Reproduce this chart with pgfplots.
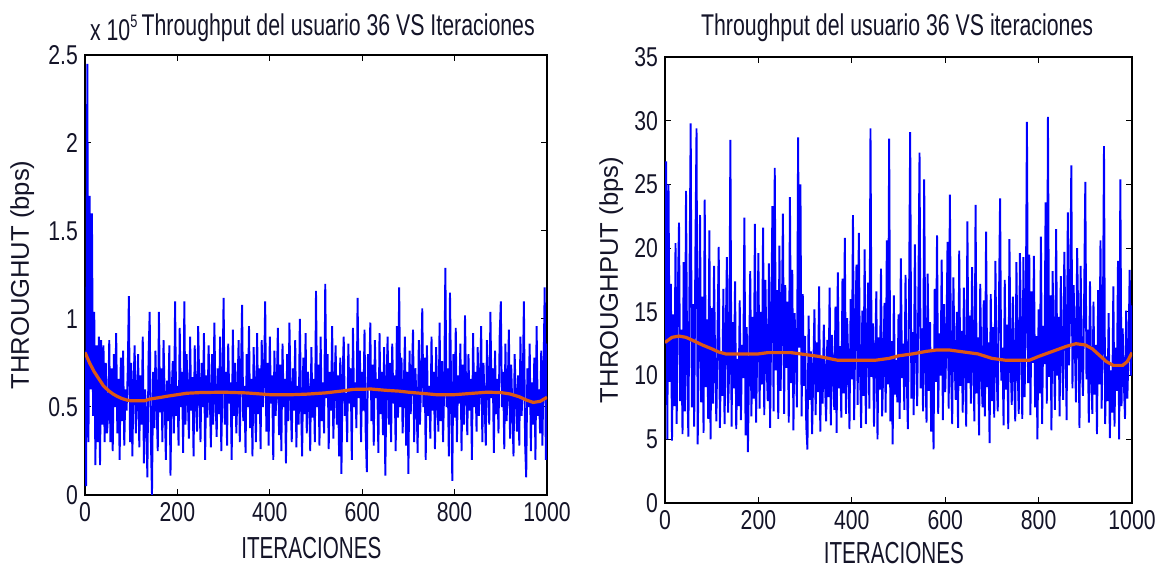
\documentclass[border=0pt]{standalone}
\usepackage{pgfplots}
\pgfplotsset{compat=1.18}
\usepackage{pgfplotstable}
\usepackage{fontspec}
\setmainfont{Liberation Sans}
\newfontfamily\tickf{Liberation Sans}[FakeStretch=0.78]
\newfontfamily\titf{Liberation Sans}[FakeStretch=0.71]
\newfontfamily\xlabf{Liberation Sans}[FakeStretch=0.68]
\definecolor{mblue}{RGB}{0,0,255}
\definecolor{morange}{RGB}{222,88,20}
\definecolor{mtext}{RGB}{20,20,40}

\pgfplotstableread{
y
0.82
0.05
2.45
0.3
1.7
0.6
1.6
0.45
1.04
0.17
0.85
0.3
0.9
0.17
0.88
0.4
0.85
0.3
0.75
0.35
0.45
0.88
0.3
0.72
0.25
0.8
0.5
0.92
0.35
0.66
0.2
0.78
0.42
0.82
0.28
0.6
0.48
0.7
1.13
0.3
0.75
0.22
0.62
0.85
0.35
0.55
0.8
0.27
0.68
0.4
0.9
0.18
0.6
0.45
0.1
0.78
1.04
0.33
0.0
0.7
0.38
0.82
0.5
0.25
1.04
0.47
0.72
0.3
0.88
0.55
0.2
0.65
0.42
0.85
0.11
0.58
0.76
0.35
1.1
0.45
0.62
0.28
0.95
0.5
0.7
0.24
1.1
0.4
0.8
0.55
0.32
0.9
0.48
0.67
0.22
0.85
0.52
0.36
0.96
0.6
0.3
0.75
0.5
0.92
0.2
0.68
0.44
0.85
0.58
0.27
0.8
0.4
0.98
0.55
0.33
0.72
0.46
0.9
0.25
0.62
1.12
0.4
0.7
0.28
0.86
0.52
0.64
0.2
0.94
0.45
0.75
0.35
0.58
0.88
0.3
0.68
1.08
0.42
0.62
0.24
0.8
0.5
0.96
0.38
0.66
0.22
0.84
0.55
0.3
0.92
0.46
0.72
0.26
0.88
0.5
0.64
1.1
0.36
0.75
0.28
0.9
0.52
0.68
0.2
0.82
0.45
0.6
0.95
0.34
0.74
0.25
0.86
0.5
0.66
0.18
0.8
0.42
0.98
0.56
0.3
0.72
0.48
0.88
0.27
0.62
0.4
1.0
0.53
0.22
0.78
0.46
0.92
0.35
0.7
0.58
0.25
0.84
0.44
0.66
0.3
1.16
0.5
0.74
0.28
0.9
0.42
0.64
0.35
1.2
0.55
0.8
0.26
0.7
0.48
0.96
0.32
0.6
0.85
0.4
0.68
0.22
0.78
0.12
0.66
0.9
0.45
0.58
0.3
0.86
0.52
0.72
0.2
0.95
0.5
0.64
0.38
1.12
0.55
0.82
0.3
0.7
0.48
0.94
0.36
0.13
0.8
0.6
0.98
0.42
0.74
0.28
0.88
0.55
0.66
0.24
0.92
0.46
0.7
0.34
0.84
0.11
0.62
0.9
0.4
0.75
0.3
0.86
0.52
0.68
0.25
0.96
0.44
1.18
0.5
0.78
0.35
0.6
0.9
0.28
0.7
0.12
0.82
0.46
0.66
0.94
0.3
0.72
0.55
0.24
0.88
0.4
0.64
1.06
0.5
0.78
0.2
0.85
0.45
0.62
0.32
0.9
0.48
0.7
0.26
0.84
0.55
0.36
0.98
0.42
0.76
0.3
0.62
1.29
0.5
0.72
0.22
1.15
0.6
0.08
0.8
0.44
0.95
0.3
0.68
0.52
0.86
0.25
0.74
0.4
1.02
0.56
0.34
0.8
0.48
0.66
0.2
0.92
0.5
0.7
0.36
0.84
0.45
0.62
0.96
0.3
0.75
0.52
0.28
0.88
0.6
0.4
1.04
0.55
0.72
0.24
0.82
0.46
0.66
0.35
0.9
1.1
0.5
0.7
0.26
0.86
0.42
0.6
0.94
0.32
0.74
0.48
0.22
0.8
0.55
0.36
0.68
0.28
0.9
0.45
0.62
1.1
0.3
0.1
0.72
0.5
0.86
0.25
0.64
0.4
0.78
0.2
0.96
0.45
0.6
0.35
0.82
0.28
0.7
1.18
0.2
0.86
}\leftraw

\pgfplotstableread{
y
12.5
26.8
5.0
25.0
9.5
17.2
4.9
14.8
7.6
20.4
6.2
16.5
22.0
8.0
13.6
5.4
18.9
7.2
24.5
10.3
5.2
17.8
29.8
7.5
15.6
6.0
19.4
29.4
4.6
12.8
22.6
7.9
16.2
5.5
23.8
9.1
14.4
6.6
21.4
5.0
15.3
7.8
18.6
10.2
6.4
13.5
20.1
5.9
11.7
8.4
16.8
6.2
12.9
19.3
7.1
10.6
28.5
6.0
14.2
9.0
17.4
5.8
11.3
7.6
15.9
6.5
12.4
9.8
22.4
5.3
13.8
4.0
10.7
18.2
6.8
14.6
8.2
21.9
6.3
12.0
19.6
7.4
15.0
9.3
21.6
6.9
17.5
11.1
8.0
18.8
5.9
14.3
23.3
7.2
26.3
10.4
16.7
6.6
20.2
8.8
13.9
22.7
7.0
17.1
10.6
15.8
6.3
24.0
9.4
18.3
5.7
14.9
11.8
7.5
28.7
12.2
25.0
6.8
16.4
9.2
13.1
6.0
4.2
14.7
8.1
11.9
5.4
10.3
15.2
6.9
12.6
8.7
17.0
5.6
11.4
7.8
14.0
9.6
6.4
12.8
8.3
16.9
6.1
13.2
10.1
7.3
15.4
5.5
18.1
9.0
12.3
6.7
17.6
8.6
20.8
7.0
14.5
11.0
5.8
16.0
9.7
22.6
6.5
13.6
18.7
7.7
21.2
10.8
5.9
15.1
8.4
19.9
6.2
12.1
17.3
7.4
29.4
9.9
14.1
6.0
11.5
16.6
5.0
13.0
8.9
18.4
6.8
10.9
15.7
7.1
20.6
9.3
28.6
6.4
12.7
4.6
16.3
8.5
11.2
7.9
14.8
6.6
19.2
9.8
12.5
7.3
17.9
10.1
5.8
15.5
29.1
8.2
13.4
6.9
20.3
11.6
7.6
16.1
27.5
9.0
13.7
7.2
25.4
10.5
6.3
18.0
8.8
14.2
5.6
11.9
4.2
16.8
9.5
21.0
7.0
13.3
10.0
19.1
6.5
15.6
8.7
12.4
20.5
7.4
24.2
10.6
6.2
17.7
11.4
8.1
15.0
5.9
19.8
9.2
13.5
7.1
16.9
10.3
6.0
22.1
9.4
14.7
7.8
18.5
11.1
6.4
23.4
8.6
13.0
5.3
17.2
10.2
7.5
15.9
6.8
21.3
9.1
12.6
4.7
16.4
8.0
13.8
6.7
19.0
10.4
7.2
15.3
23.9
9.6
12.2
6.1
17.5
8.9
14.0
5.8
20.7
11.3
7.7
16.2
9.8
6.4
18.9
10.7
7.0
19.6
12.9
6.6
19.3
8.3
14.5
29.9
9.4
19.5
6.9
16.6
11.0
19.4
7.5
13.1
5.0
15.2
8.6
20.9
6.2
13.9
10.9
23.6
7.8
30.3
9.9
16.3
5.7
18.2
12.0
7.3
21.5
10.0
14.6
6.8
17.8
11.7
8.1
19.7
13.3
6.5
22.8
10.8
15.4
26.5
9.0
17.1
12.5
7.9
20.0
14.1
5.9
18.6
11.2
8.4
16.0
25.2
9.7
13.6
6.3
17.4
10.1
7.0
15.8
8.5
12.4
5.4
16.7
9.3
20.6
7.4
13.0
28.0
6.2
11.5
8.0
14.9
5.1
10.4
7.1
17.0
6.0
12.2
8.8
19.0
5.0
25.4
7.6
13.7
9.5
6.6
15.1
8.2
11.8
18.3
10.0
15.5
}\rightraw

\pgfplotsset{
  mstyle/.style={
    scale only axis,
    anchor=south west,
    xmin=0, xmax=1000,
    xtick={0,200,400,600,800,1000},
    tick align=inside,
    major tick length=3pt,
    axis line style={black, line width=0.6pt},
    every tick/.style={black, line width=0.5pt},
    /pgf/number format/assume math mode=true,
    /pgf/number format/1000 sep={},
    tick label style={font=\tickf\fontsize{13.6}{14}\selectfont, text=mtext},
    xlabel style={font=\xlabf\fontsize{15.2}{16}\selectfont, text=mtext},
    ylabel style={font=\fontsize{12.8}{13}\selectfont, text=mtext},
    title style={font=\titf\fontsize{15}{16}\selectfont, text=mtext},
    every axis title shift=0pt,
    scaled ticks=false,
    clip=true,
  }
}

\begin{document}
\begin{tikzpicture}[x=1pt,y=1pt]
\path[use as bounding box] (0,0) rectangle (580,285.5);

\begin{axis}[mstyle,
  at={(42.5pt,38pt)}, width=231pt, height=220pt,
  ymin=0, ymax=2.5,
  ytick={0,0.5,1,1.5,2,2.5},
  yticklabels={0,0.5,1,1.5,2,2.5},
  xlabel={ITERACIONES},
  xlabel style={at={(axis description cs:0.49,-0.12)}, anchor=center},
  ylabel={THROUGHUT (bps)},
  ylabel style={at={(axis description cs:-0.136,0.5)}, anchor=center, rotate=0},
  title={Throughput del usuario 36 VS Iteraciones},
  title style={at={(axis description cs:0.548,1.061)}, anchor=center},
]
\addplot[mblue, line width=0.95pt] table[x expr=\coordindex*2.5, y=y] {\leftraw};
\addplot[morange, line width=1.6pt] coordinates {
(0,0.81) (10,0.75) (20,0.70) (30,0.66) (40,0.62) (50,0.595) (60,0.575) (70,0.56) (80,0.548) (90,0.54)
(100,0.535) (120,0.535) (130,0.536) (140,0.545) (160,0.553) (180,0.562) (200,0.57) (220,0.578)
(250,0.582) (300,0.584) (350,0.58) (380,0.574) (400,0.57) (450,0.57) (480,0.573) (520,0.58)
(560,0.592) (580,0.6) (620,0.602) (650,0.595) (680,0.59) (700,0.584) (740,0.575) (760,0.57)
(800,0.57) (830,0.576) (870,0.584) (900,0.582) (920,0.574) (940,0.558) (955,0.54) (970,0.526)
(985,0.532) (1000,0.555)};
\end{axis}
\node[anchor=west, text=mtext, font=\titf\fontsize{15}{16}\selectfont] at (41.5,271.5) {x 10\raisebox{6.5pt}{\fontsize{9}{9}\selectfont 5}};

\begin{axis}[mstyle,
  at={(332.5pt,34pt)}, width=233.5pt, height=223pt,
  ymin=0, ymax=35,
  ytick={0,5,10,15,20,25,30,35},
  xlabel={ITERACIONES},
  xlabel style={at={(axis description cs:0.49,-0.113)}, anchor=center},
  ylabel={THROUGHPUT (bps)},
  ylabel style={at={(axis description cs:-0.115,0.5)}, anchor=center, rotate=0},
  title={Throughput del usuario 36 VS iteraciones},
  title style={at={(axis description cs:0.497,1.065)}, anchor=center},
]
\addplot[mblue, line width=0.95pt] table[x expr=\coordindex*2.5, y=y] {\rightraw};
\addplot[morange, line width=1.6pt] coordinates {
(0,12.6) (15,13.0) (30,13.1) (45,13.0) (60,12.75) (80,12.4) (100,12.1) (115,11.85) (130,11.7)
(200,11.7) (220,11.8) (270,11.8) (300,11.65) (330,11.5) (350,11.35) (370,11.2) (450,11.2)
(480,11.35) (500,11.55) (530,11.7) (560,11.9) (580,12.0) (610,12.0) (640,11.85) (670,11.7)
(700,11.35) (730,11.2) (780,11.2) (800,11.5) (830,11.9) (860,12.3) (880,12.5) (900,12.4)
(915,12.1) (930,11.6) (945,11.1) (960,10.8) (980,10.8) (990,11.1) (1000,11.8)};
\end{axis}
\end{tikzpicture}
\end{document}
